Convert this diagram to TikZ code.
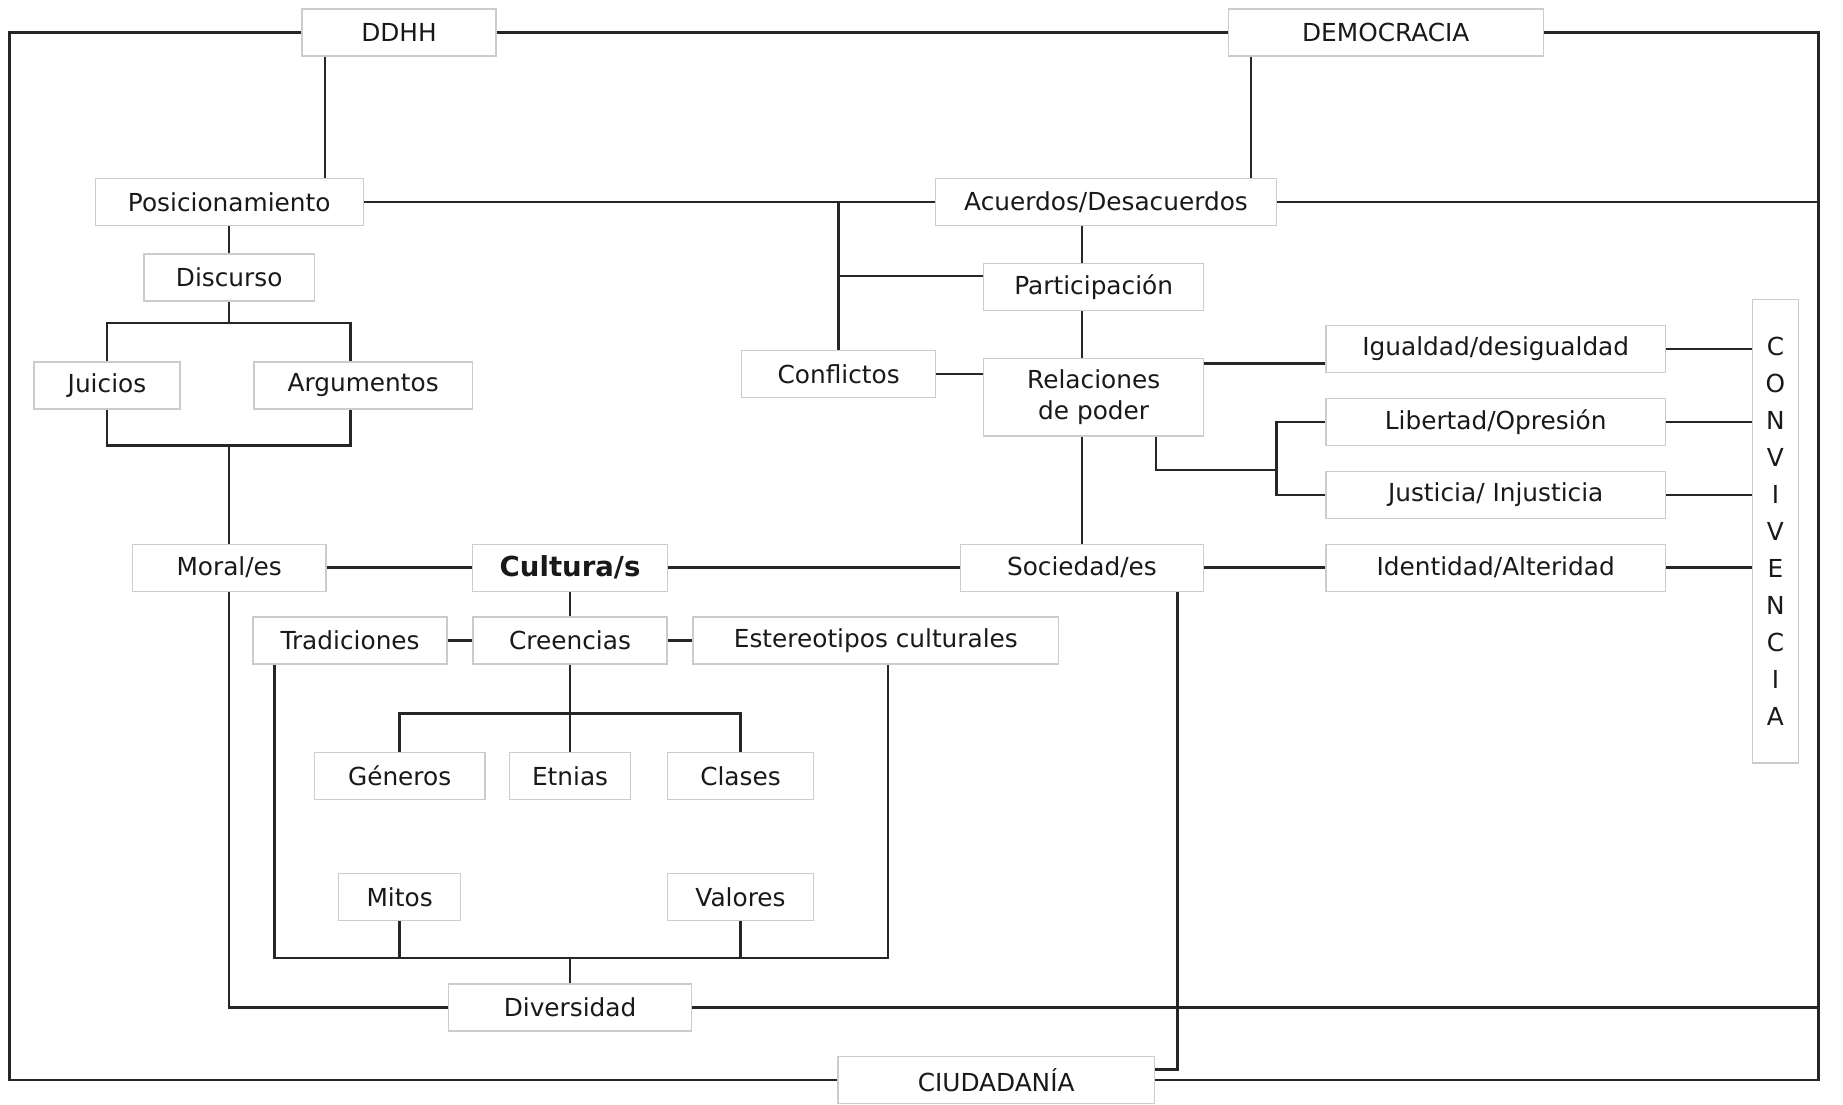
\documentclass[tikz,border=0pt]{standalone}
\usepackage{fontspec}
\setmainfont{DejaVu Sans}
\usepackage{xcolor}
\usepackage{tikz}
\usetikzlibrary{positioning, calc}

\begin{document}
\begin{tikzpicture}[
    x=0.15mm, y=-0.15mm,
    conceptbox/.style={
        rectangle,
        draw=gray!40,
        line width=0.5pt,
        fill=white,
        minimum height=6mm,
        inner sep=1pt,
        align=center,
        text=black!90,
        font=\fontsize{9}{11.5}\selectfont
    },
    conn/.style={
        line width=0.9pt,
        draw=black!85
    }
]
    \useasboundingbox (0,0) rectangle (1568,940);

    % Row 1: DDHH + Democracia
    \node[conceptbox, minimum width=24.75mm] (ddhh) at (339.5,27.5) {DDHH};
    \node[conceptbox, minimum width=40.2mm] (democracia) at (1179,27.5) {DEMOCRACIA};

    % Left column: Posicionamiento down to Juicios/Argumentos
    \node[conceptbox, minimum width=34.2mm] (posic) at (195,172) {Posicionamiento};
    \node[conceptbox, minimum width=21.75mm, below=3.45mm of posic] (discurso) {Discurso};
    \node[conceptbox, minimum width=18.6mm] (juicios) at (91,328) {Juicios};
    \node[conceptbox, minimum width=27.9mm] (argum) at (309,328) {Argumentos};

    % Right column: Acuerdos down to Relaciones
    \node[conceptbox, minimum width=43.5mm] (acuerdos) at (941,172) {Acuerdos/Desacuerdos};
    \node[conceptbox, minimum width=28.05mm] (particip) at (930.5,244) {Participación};
    \node[conceptbox, minimum width=24.75mm] (conflictos) at (713.5,318) {Conflictos};
    \node[conceptbox, minimum width=28.05mm, minimum height=9.9mm] (relaciones) at (930.5,338) {Relaciones\\de poder};

    % Pairs feeding Convivencia
    \node[conceptbox, minimum width=43.35mm] (igualdad) at (1272.5,297) {Igualdad/desigualdad};
    \node[conceptbox, minimum width=43.35mm] (libertad) at (1272.5,359) {Libertad/Opresión};
    \node[conceptbox, minimum width=43.35mm] (justicia) at (1272.5,421) {Justicia/ Injusticia};
    \node[conceptbox, minimum width=43.35mm] (identidad) at (1272.5,483) {Identidad/Alteridad};
    \node[conceptbox, minimum width=5.85mm, minimum height=59.1mm,
          font=\fontsize{9}{13.4}\selectfont] (conv) at (1510.5,452)
          {C\\O\\N\\V\\I\\V\\E\\N\\C\\I\\A};

    % Middle row: Moral, Cultura, Sociedad
    \node[conceptbox, minimum width=24.75mm] (moral) at (195,483) {Moral/es};
    \node[conceptbox, minimum width=24.9mm, font=\fontsize{10}{12}\selectfont\bfseries] (cultura) at (485,483) {Cultura/s};
    \node[conceptbox, minimum width=31.05mm] (sociedad) at (920.5,483) {Sociedad/es};

    % Under Cultura
    \node[conceptbox, minimum width=24.75mm] (creencias) at (485,545) {Creencias};
    \node[conceptbox, minimum width=24.75mm, left=3.15mm of creencias] (tradiciones) {Tradiciones};
    \node[conceptbox, minimum width=46.65mm, right=3.15mm of creencias] (estereotipos) {Estereotipos culturales};

    \node[conceptbox, minimum width=15.45mm] (etnias) at (485,660) {Etnias};
    \node[conceptbox, minimum width=21.75mm] (generos) at (340,660) {Géneros};
    \node[conceptbox, minimum width=18.6mm] (clases) at (630,660) {Clases};
    \node[conceptbox, minimum width=15.6mm] (mitos) at (340,763) {Mitos};
    \node[conceptbox, minimum width=18.6mm] (valores) at (630,763) {Valores};

    % Bottom row
    \node[conceptbox, minimum width=31.05mm] (diversidad) at (485,857) {Diversidad};
    \node[conceptbox, minimum width=40.35mm] (ciudadania) at (847.5,919) {CIUDADANÍA};

    % Corners and joints
    \coordinate (tl) at (8,27.5);
    \coordinate (br) at (1547,919);
    \coordinate (dj) at (195,275);
    \coordinate (ja) at (195,379);
    \coordinate (gc) at (485,607);
    \coordinate (mv) at (485,815);
    \coordinate (lj) at (1086,400);

    % Outer frame
    \draw[conn] (ddhh.west) -- (tl) |- (ciudadania.west);
    \draw[conn] (ciudadania.east) -| (br) |- (democracia.east);
    \draw[conn] (ddhh.east) -- (democracia.west);

    % Left branch
    \draw[conn] ([xshift=3mm]ddhh.south west) -- ([xshift=3mm]ddhh.south west |- posic.north);
    \draw[conn] (posic.south) -- (discurso.north);
    \draw[conn] (discurso.south) -- (dj);
    \draw[conn] (juicios.north) |- (dj) -| ([xshift=-1.65mm]argum.north);
    \draw[conn] (juicios.south) |- (ja) -| ([xshift=-1.65mm]argum.south);
    \draw[conn] (ja) -- (moral.north);
    \draw[conn] (moral.south) |- (diversidad.west);

    % Right branch
    \draw[conn] ([xshift=3mm]democracia.south west) -- ([xshift=3mm]democracia.south west |- acuerdos.north);
    \draw[conn] (posic.east) -- (acuerdos.west);
    \draw[conn] (acuerdos.east) -- (acuerdos.east -| br);
    \draw[conn] (conflictos.north |- posic.east) -- (conflictos.north);
    \draw[conn] ([yshift=1.35mm]particip.west) -- ([yshift=1.35mm]particip.west -| conflictos.north);
    \draw[conn] (conflictos.east) -- (conflictos.east -| relaciones.west);
    \draw[conn] (acuerdos.south -| sociedad.north) -- (particip.north -| sociedad.north);
    \draw[conn] (particip.south -| sociedad.north) -- (relaciones.north -| sociedad.north);
    \draw[conn] (relaciones.south -| sociedad.north) -- (sociedad.north);
    \draw[conn] ([yshift=-0.75mm]relaciones.north east) -- ([yshift=-0.75mm]relaciones.north east -| igualdad.west);
    \draw[conn] ([xshift=-6.15mm]relaciones.south east) |- (lj);
    \draw[conn] (libertad.west) -| (lj) |- (justicia.west);

    % Into Convivencia
    \draw[conn] (igualdad.east) -- (igualdad.east -| conv.west);
    \draw[conn] (libertad.east) -- (libertad.east -| conv.west);
    \draw[conn] (justicia.east) -- (justicia.east -| conv.west);
    \draw[conn] (identidad.east) -- (identidad.east -| conv.west);

    % Middle row
    \draw[conn] (moral.east) -- (cultura.west);
    \draw[conn] (cultura.east) -- (sociedad.west);
    \draw[conn] (sociedad.east) -- (identidad.west);
    \draw[conn] ([xshift=-3.45mm]sociedad.south east) |- ([yshift=1.35mm]ciudadania.east);

    % Cultura subtree
    \draw[conn] (cultura.south) -- (creencias.north);
    \draw[conn] (tradiciones.east) -- (creencias.west);
    \draw[conn] (creencias.east) -- (estereotipos.west);
    \draw[conn] (creencias.south) -- (etnias.north);
    \draw[conn] (generos.north) |- (gc) -| (clases.north);
    \draw[conn] ([xshift=2.85mm]tradiciones.south west) |- (mv) -| ([xshift=1.575mm]estereotipos.south);
    \draw[conn] (mitos.south) -- (mitos.south |- mv);
    \draw[conn] (valores.south) -- (valores.south |- mv);
    \draw[conn] (mv) -- (diversidad.north);
    \draw[conn] (diversidad.east) -- (diversidad.east -| br);
\end{tikzpicture}
\end{document}
